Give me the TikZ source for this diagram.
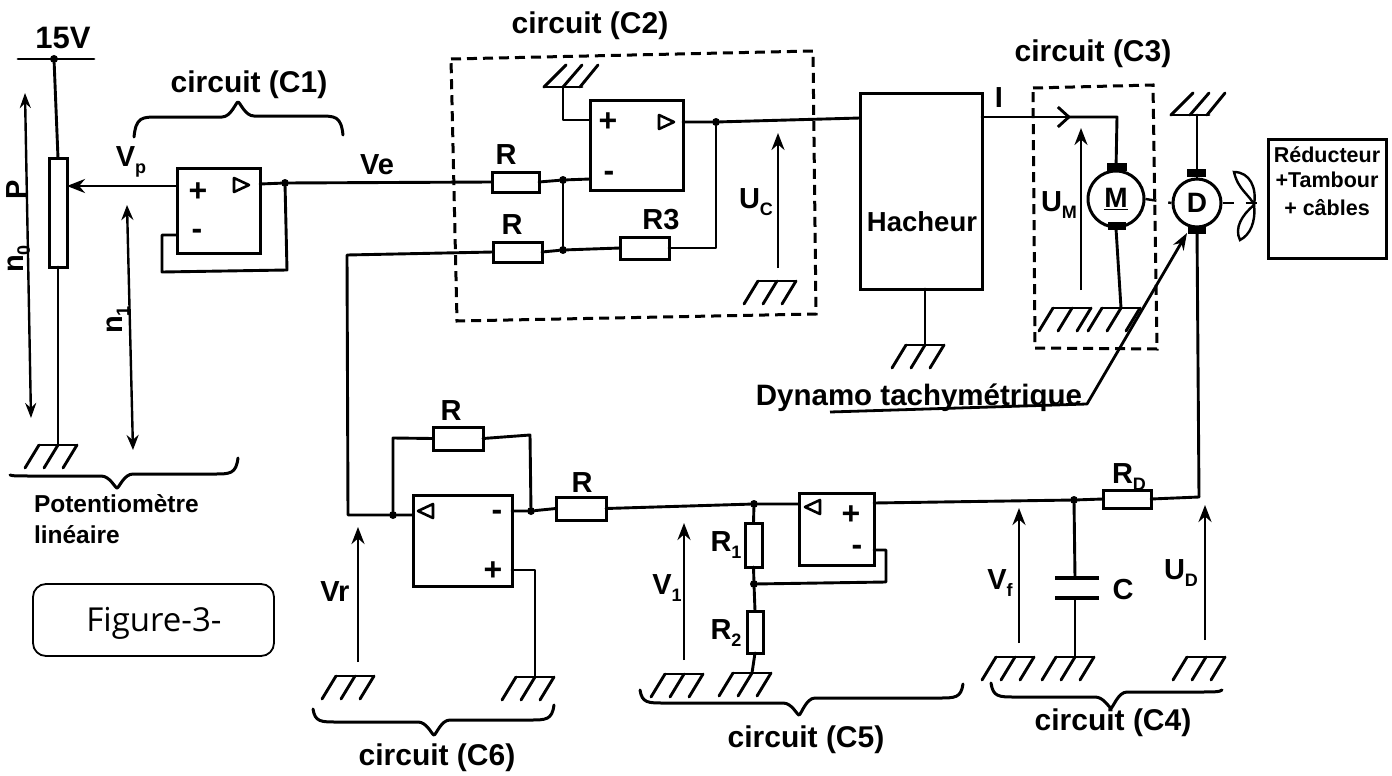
\documentclass[tikz,border=0pt]{standalone}
\usepackage{fontspec}
\setmainfont{Liberation Sans}
\newfontfamily\figfont{Open Sans}
\usetikzlibrary{arrows.meta}
\newcommand{\subl}[1]{\raisebox{-0.22em}{\fontsize{18}{18}\selectfont #1}}
\newcommand{\bracedraw}[8]{\draw[brc] (#1,#2) .. controls (#1+2,#3) and (#1+8,#3) .. (#1+24,#3) -- (#4-16,#3) .. controls (#4-7,#3) and (#4-2,#5) .. (#4,#5) .. controls (#4+2,#5) and (#4+7,#8) .. (#4+16,#8) -- (#6-24,#8) .. controls (#6-8,#8) and (#6-2,#8) .. (#6,#7);}
\tikzset{
  wire/.style={line width=2.9pt,line join=round,line cap=round},
  varrow/.style={line width=2.6pt,-{Stealth[length=17pt,width=13pt]}},
  boxn/.style={draw,line width=3pt,fill=white,inner sep=0pt,outer sep=0pt},
  jdot/.style={circle,fill=black,inner sep=0pt,minimum size=8pt,outer sep=0pt},
  dbox/.style={line width=3pt,dash pattern=on 10pt off 6pt},
  shaft/.style={line width=2.4pt,dash pattern=on 11pt off 12pt},
  brc/.style={line width=3pt,line cap=round,line join=round},
  lbl/.style={inner sep=0pt,outer sep=0pt,font=\fontsize{29}{31}\selectfont\bfseries},
  cct/.style={inner sep=0pt,outer sep=0pt,font=\fontsize{30}{32}\selectfont\bfseries},
  sm/.style={inner sep=0pt,outer sep=0pt,font=\fontsize{21.5}{23}\selectfont\bfseries},
  pin/.style={inner sep=0pt,outer sep=0pt,font=\fontsize{32}{32}\selectfont\bfseries},
  capbar/.style={line width=8pt},
  pics/gndd/.style={code={
    \draw[wire] (-19,0)--(19,0);
    \draw[wire] (-19,0)--(-33,23) (0,0)--(-14,23) (19,0)--(5,23);}},
  pics/gndu/.style={code={
    \draw[wire] (-19,0)--(19,0);
    \draw[wire] (-19,0)--(3,-22) (0,0)--(19,-22) (17,0)--(35,-22);}},
  pics/trir/.style={code={\draw[line width=2.6pt,line join=round] (-7,-7)--(8,0)--(-7,7)--cycle;}},
  pics/tril/.style={code={\draw[line width=2.6pt,line join=round] (7,-7)--(-8,0)--(7,7)--cycle;}},
}
\begin{document}
\begin{tikzpicture}[x=1pt,y=-1pt]
\useasboundingbox (0,0) rectangle (1392,776);
% --- boxes
\node[boxn,minimum width=18pt,minimum height=109pt] (pot) at (58,212.5) {};
\node[boxn,minimum width=83pt,minimum height=85pt] (a1) at (218.5,210.5) {};
\node[boxn,minimum width=93pt,minimum height=90pt] (a2) at (636.5,145) {};
\node[boxn,minimum width=99pt,minimum height=91pt] (a6) at (462.5,540.5) {};
\node[boxn,minimum width=75pt,minimum height=72pt] (a5) at (836.5,529) {};
\node[boxn,minimum width=122pt,minimum height=196pt] (hach) at (921,191) {};
\node[boxn,minimum width=118pt,minimum height=119pt] (redu) at (1327,198.5) {};
% --- resistors
\node[boxn,minimum width=47pt,minimum height=20pt] (ra) at (515.5,182) {};
\node[boxn,minimum width=49pt,minimum height=20pt] (rb) at (517.5,252) {};
\node[boxn,minimum width=49pt,minimum height=22pt] (rc) at (644.5,248) {};
\node[boxn,minimum width=50pt,minimum height=23pt] (rf) at (458,438.5) {};
\node[boxn,minimum width=50pt,minimum height=23pt] (rg) at (581,508.5) {};
\node[boxn,minimum width=17pt,minimum height=44pt] (ru) at (753.5,545) {};
\node[boxn,minimum width=16pt,minimum height=42pt] (rl) at (755,632) {};
\node[boxn,minimum width=48pt,minimum height=18pt] (rd) at (1127,499) {};
% --- machines
\node[draw,circle,line width=3pt,fill=white,minimum size=56pt,inner sep=0pt,font=\fontsize{28}{30}\selectfont\bfseries] (mot) at (1116,199) {\underline{M}};
\node[draw,circle,line width=3pt,fill=white,minimum size=48pt,inner sep=0pt,font=\fontsize{28}{30}\selectfont\bfseries] (dyn) at (1197,203) {D};
\draw[capbar] (1107,167)--(1127,167) (1108,226)--(1126,226);
\draw[capbar] (1187,173)--(1206,173) (1188,230)--(1206,230);
% --- junctions
\node[jdot] (j0) at (54,59) {};
\node[jdot] (j1) at (285,183) {};
\node[jdot] (j2) at (563,180) {};
\node[jdot] (j3) at (563,250) {};
\node[jdot] (j4) at (716,122) {};
\node[jdot] (j5) at (393,515) {};
\node[jdot] (j6) at (531,511) {};
\node[jdot] (j7) at (754,504) {};
\node[jdot] (j8) at (754,584) {};
\node[jdot] (j9) at (1074,500) {};
% --- grounds
\coordinate (g0) at (58,445); \pic at (g0) {gndd};
\coordinate (g1) at (563,87); \pic at (g1) {gndu};
\coordinate (g2) at (777,281); \pic at (g2) {gndd};
\coordinate (g3) at (925,345); \pic at (g3) {gndd};
\coordinate (g4) at (1072,308); \pic at (g4) {gndd};
\coordinate (g5) at (1121,308); \pic at (g5) {gndd};
\coordinate (g6) at (1190,115); \pic at (g6) {gndu};
\coordinate (g7) at (355,676); \pic at (g7) {gndd};
\coordinate (g8) at (535,677); \pic at (g8) {gndd};
\coordinate (g9) at (684,674); \pic at (g9) {gndd};
\coordinate (g10) at (752,673); \pic at (g10) {gndd};
\coordinate (g11) at (1015,657); \pic at (g11) {gndd};
\coordinate (g12) at (1075,657); \pic at (g12) {gndd};
\coordinate (g13) at (1206,657); \pic at (g13) {gndd};
% --- supply
\coordinate (sa) at (18,59); \coordinate (sb) at (94,59);
\draw[wire] (sa)--(sb);
\draw[wire] (j0)--(pot.north);
\draw[wire] (pot.south)--(g0);
% --- C1
\coordinate (a1p) at (177,186);
\coordinate (a1m) at (177,235);
\coordinate (a1o) at (260,184);
\draw[line width=2.9pt,-{Stealth[length=18pt,width=14pt]}] (a1p)--(pot.east |- a1p);
\draw[wire] (a1o)--(j1)--(ra.west);
\draw[wire] (a1m)--(162,235)--(162,272)--(287,270)--(j1);
\node[pin] (n1p) at (198,192) {+};
\node[pin] (n1m) at (197,234) {-};
\pic at (241,185) {trir};
% --- C2
\draw[dbox] (451,59)--(813,51)--(816,314)--(457,321)--cycle;
\coordinate (a2p) at (590,120);
\coordinate (a2m) at (590,179);
\coordinate (a2o) at (683,122);
\draw[wire] (g1)--(563,120)--(a2p);
\draw[wire] (ra.east)--(j2)--(a2m);
\draw[wire] (j2)--(j3);
\draw[wire] (a2o)--(j4)--(hach.west |- 0,118);
\draw[wire] (j4)--(716,248)--(rc.east);
\draw[wire] (rc.west)--(j3)--(rb.east);
\node[pin] (n2p) at (608,122) {+};
\node[pin] (n2m) at (609,176) {-};
\pic at (666,122) {trir};
% --- return line
\coordinate (ret) at (347,255);
\coordinate (ret2) at (348,515);
\draw[wire] (rb.west)--(ret)--(ret2)--(j5)--(a6.west |- j5);
% --- C6
\coordinate (a6o) at (512,511);
\coordinate (a6p) at (512,570);
\draw[wire] (j5)--(393,438)--(rf.west);
\draw[wire] (rf.east)--(530,435)--(j6);
\draw[wire] (a6o)--(j6)--(rg.west);
\draw[wire] (a6p)--(535,570)--(g8);
\node[pin] (n6m) at (497,515) {-};
\node[pin] (n6p) at (493,571) {+};
\pic at (426,511) {tril};
% --- C5
\coordinate (a5i) at (799,504);
\coordinate (a5m) at (874,550);
\coordinate (a5o) at (874,503);
\draw[wire] (rg.east)--(j7)--(a5i);
\draw[wire] (j7)--(ru.north);
\draw[wire] (ru.south)--(j8)--(rl.north);
\draw[wire] (rl.south)--(g10);
\draw[wire] (a5m)--(886,550)--(886,582)--(j8);
\node[pin] (n5p) at (851,515) {+};
\node[pin] (n5m) at (857,550) {-};
\pic at (813,507) {tril};
% --- C4
\coordinate (cu) at (1075,578);
\coordinate (cl) at (1075,598);
\coordinate (corner) at (1199,497);
\draw[wire] (a5o)--(j9)--(rd.west);
\draw[wire] (rd.east)--(corner);
\draw[wire] (corner)--(dyn.south);
\draw[wire] (j9)--(cu);
\draw[wire] (cl)--(g12);
\draw[line width=3.2pt] (1055,578)--(1099,578) (1055,598)--(1099,598);
% --- Hacheur ground
\draw[wire] (hach.south -| g3)--(g3);
% --- C3
\draw[dbox] (1033,88)--(1153,85)--(1157,349)--(1035,348)--cycle;
\coordinate (ck) at (1117,117);
\draw[wire,-{Straight Barb[length=11pt,width=20pt]}] (hach.east |- ck)--(1071,117);
\draw[wire] (1068,117)--(ck)--(mot.north);
\draw[wire] (mot.south)--(g5);
\draw[wire] (dyn.north)--(1197,115);
% --- shaft
\draw[shaft] (mot.east)--(dyn.west);
\draw[shaft] (dyn.east)--(redu.west |- dyn.east);
\draw[line width=2.4pt] (1234,172) .. controls (1250,172) and (1257,188) .. (1254,205) .. controls (1250,195) and (1238,190) .. cycle;
\draw[line width=2.4pt] (1254,205) .. controls (1256,222) and (1250,235) .. (1240,240) .. controls (1234,228) and (1242,215) .. cycle;
% --- Dynamo pointer
\coordinate (dp0) at (830,412);
\coordinate (dp1) at (1087,404);
\coordinate (dp2) at (1187,233);
\draw[line width=2.8pt,line join=round,-{Stealth[length=17pt,width=12pt]}] (dp0)--(dp1)--(dp2);
% --- voltage arrows
\draw[line width=2.4pt,{Stealth[length=15pt,width=11pt]}-{Stealth[length=15pt,width=11pt]}] (31,418)--(25,93);
\draw[line width=2.4pt,{Stealth[length=15pt,width=12pt]}-{Stealth[length=15pt,width=12pt]}] (133,450)--(127,205);
\draw[varrow] (778,268)--(778,133);
\draw[varrow] (1081,290)--(1081,128);
\draw[varrow] (358,662)--(358,527);
\draw[varrow] (684,660)--(684,523);
\draw[varrow] (1019,643)--(1019,508);
\draw[varrow] (1205,640)--(1205,505);
% --- braces
\bracedraw{134}{137}{117}{238}{102}{343}{135}{116}
\bracedraw{10}{475}{476}{117}{488}{238}{458}{474}
\bracedraw{313}{709}{722}{434}{735}{554}{705}{720}
\bracedraw{640}{690}{703}{799}{715}{963}{684}{698}
\bracedraw{991}{683}{697}{1111}{708}{1222}{690}{692}
% --- labels
\node[lbl,font=\fontsize{31}{33}\selectfont\bfseries] (t15) at (63,38) {15V};
\node[cct] (tc1) at (249,85) {circuit (C1)};
\node[cct] (tc2) at (590,26) {circuit (C2)};
\node[cct] (tc3) at (1093,54) {circuit (C3)};
\node[cct] (tc4) at (1113,723) {circuit (C4)};
\node[cct] (tc5) at (806,740) {circuit (C5)};
\node[cct] (tc6) at (437,758) {circuit (C6)};
\node[lbl] (tvp) at (131,162) {V\subl{p}};
\node[lbl] (tve) at (377,165) {Ve};
\node[lbl,rotate=90] (tp) at (17,190) {P};
\node[lbl,rotate=90] (tn0) at (19,259) {n\subl{0}};
\node[lbl,rotate=90] (tn1) at (118,320) {n\subl{1}};
\node[lbl] (tr1) at (506,155) {R};
\node[lbl] (tr2) at (512,225) {R};
\node[lbl] (tr3) at (661,220) {R3};
\node[lbl] (tuc) at (756,202) {U\subl{C}};
\node[lbl,font=\fontsize{27.5}{29}\selectfont\bfseries] (thach) at (922,222) {Hacheur};
\node[lbl] (ti) at (999,98) {I};
\node[lbl] (tum) at (1059,205) {U\subl{M}};
\node[sm] (tr11) at (1327,155) {Réducteur};
\node[sm] (tr12) at (1327,180) {+Tambour};
\node[sm] (tr13) at (1327,208) {+ câbles};
\node[cct,font=\fontsize{29.5}{31}\selectfont\bfseries] (tdyn) at (919,398) {Dynamo tachymétrique};
\node[sm,font=\fontsize{24.5}{26}\selectfont\bfseries,anchor=base west] (tpot1) at (34,512) {Potentiomètre};
\node[sm,font=\fontsize{24.5}{26}\selectfont\bfseries,anchor=base west] (tpot2) at (34,543) {linéaire};
\node[lbl] (trf) at (451,411) {R};
\node[lbl] (trg) at (582,483) {R};
\node[lbl] (tvr) at (335,592) {Vr};
\node[lbl] (tv1) at (667,588) {V\subl{1}};
\node[lbl] (tr1b) at (726,545) {R\subl{1}};
\node[lbl] (tr2b) at (726,633) {R\subl{2}};
\node[lbl] (tvf) at (1000,583) {V\subl{f}};
\node[lbl] (tcc) at (1123,590) {C};
\node[lbl] (tud) at (1181,573) {U\subl{D}};
\node[lbl] (trd) at (1129,477) {R\subl{D}};
% --- figure caption
\node[draw,line width=1.8pt,rounded corners=13pt,minimum width=241pt,minimum height=72pt,inner sep=0pt] (figc) at (153.5,620) {};
\node[inner sep=0pt,font=\fontsize{33}{35}\selectfont\figfont] (figt) at (154,623) {Figure-3-};
\end{tikzpicture}
\end{document}
